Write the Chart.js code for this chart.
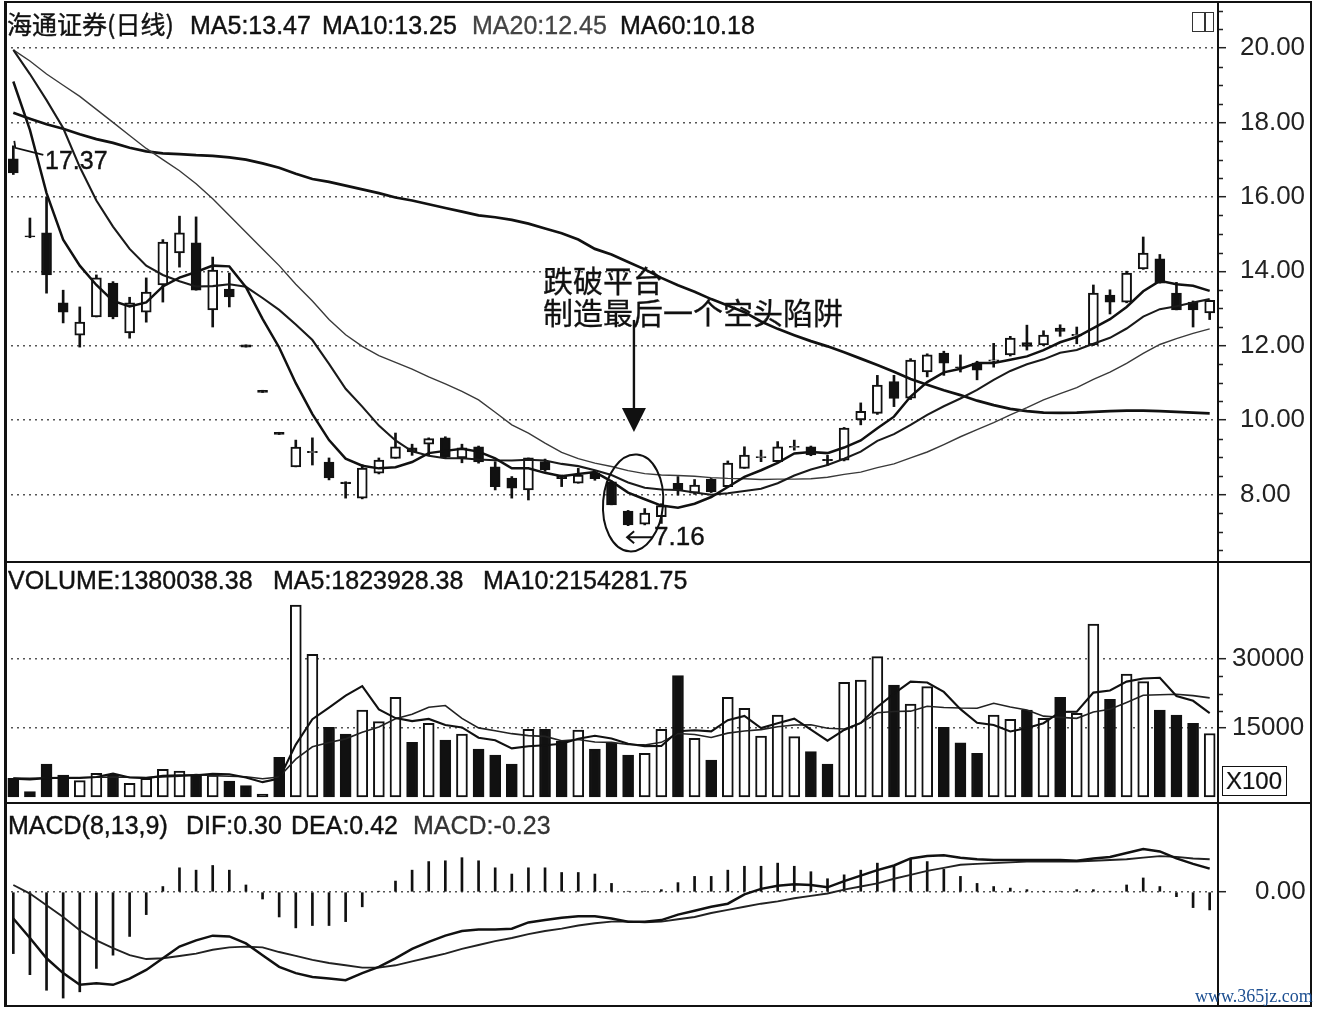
<!DOCTYPE html>
<html lang="zh-CN">
<head>
<meta charset="utf-8">
<title>海通证券(日线)</title>
<script src="https://cdn.jsdelivr.net/npm/chart.js@4.4.1/dist/chart.umd.min.js"></script>
<style>
html,body{margin:0;padding:0;background:#fff;}
#wrap{position:relative;width:1320px;height:1010px;overflow:hidden;background:#fff;}
canvas{position:absolute;left:5px;}
.t{position:absolute;white-space:nowrap;color:#111;font-family:"Liberation Sans",Arial,sans-serif;font-size:25px;line-height:29px;-webkit-text-stroke:0.4px #111;}
.cjk{font-family:"Noto Sans CJK SC",sans-serif;}
.ln{position:absolute;background:#111;}
</style>
</head>
<body>
<div id="wrap">
<canvas id="kline" width="1310" height="559" style="top:3px"></canvas>
<canvas id="vol" width="1310" height="241" style="top:562px"></canvas>
<canvas id="macd" width="1310" height="202" style="top:803px"></canvas>

<div class="ln" style="left:4px;top:1px;width:1308px;height:2px"></div>
<div class="ln" style="left:4px;top:1px;width:3px;height:1006px"></div>
<div class="ln" style="left:1310px;top:1px;width:2px;height:1006px"></div>
<div class="ln" style="left:1217px;top:1px;width:2px;height:1006px"></div>
<div class="ln" style="left:4px;top:561px;width:1308px;height:2px"></div>
<div class="ln" style="left:4px;top:802px;width:1308px;height:2px"></div>
<div class="ln" style="left:4px;top:1005px;width:1308px;height:2px"></div>

<div style="position:absolute;left:1192px;top:12px;width:20px;height:18px;border:1.5px solid #333;"><div style="position:absolute;left:11px;top:0;width:1.5px;height:18px;background:#333"></div></div>

<div class="t cjk" style="left:7px;top:9px">海通证券(日线)</div>
<div class="t" style="left:190px;top:11px">MA5:13.47</div>
<div class="t" style="left:322px;top:11px">MA10:13.25</div>
<div class="t" style="left:472px;top:11px;color:#444;-webkit-text-stroke:0.3px #444">MA20:12.45</div>
<div class="t" style="left:620px;top:11px">MA60:10.18</div>

<div class="t" style="left:8px;top:566px">VOLUME:1380038.38</div>
<div class="t" style="left:273px;top:566px">MA5:1823928.38</div>
<div class="t" style="left:483px;top:566px">MA10:2154281.75</div>

<div class="t" style="left:8px;top:811px">MACD(8,13,9)</div>
<div class="t" style="left:186px;top:811px">DIF:0.30</div>
<div class="t" style="left:291px;top:811px">DEA:0.42</div>
<div class="t" style="left:413px;top:811px;color:#333;-webkit-text-stroke:0.3px #333">MACD:-0.23</div>

<div class="t cjk" style="left:543px;top:262px;font-size:30px;line-height:34px;-webkit-text-stroke:0.3px #111">跌破平台</div>
<div class="t cjk" style="left:543px;top:294px;font-size:30px;line-height:34px;-webkit-text-stroke:0.3px #111">制造最后一个空头陷阱</div>
<div class="t" style="left:45px;top:146px">17.37</div>
<div class="t" style="left:654px;top:521px;font-size:26px;line-height:30px">7.16</div>

<div style="position:absolute;left:1222px;top:766px;width:63px;height:28px;border:1.5px solid #111;"><div class="t" style="left:3px;top:0;font-size:24px;line-height:28px;-webkit-text-stroke:0.2px #111">X100</div></div>
<div class="t" style="left:1195px;top:985px;font-family:'Liberation Serif',serif;font-size:18px;line-height:22px;color:#1d4f91;-webkit-text-stroke:0">www.365jz.com</div>
</div>

<script>
// ---------- data ----------
const opens = [
 17.02,14.95,15.03,13.15,12.28,12.77,13.68,12.34,12.90,13.63,
 14.49,14.76,12.96,13.52,12.02,10.80,9.67,8.74,9.12,8.87,
 8.33,7.90,8.57,8.97,9.25,9.35,9.52,8.98,9.28,8.74,
 8.44,8.12,8.88,8.52,8.30,8.57,8.34,7.55,7.20,7.40,
 8.30,8.03,8.41,8.21,8.70,8.99,8.88,9.26,9.28,8.94,
 8.92,10.00,10.18,11.03,10.59,11.29,11.80,11.43,11.53,11.58,
 11.75,12.08,12.02,12.47,12.26,12.02,13.36,13.17,14.06,14.33,
 13.41,13.17,12.88];
const highs = [
 17.37,15.43,16.00,13.49,13.04,13.90,13.72,13.30,13.82,14.85,
 15.48,15.46,14.38,13.95,12.02,10.80,9.67,9.46,9.52,8.98,
 8.34,8.80,8.98,9.65,9.35,9.52,9.55,9.35,9.30,8.88,
 8.48,8.98,8.95,8.52,8.70,8.60,8.36,7.57,7.62,7.75,
 8.48,8.40,8.43,8.90,9.28,9.19,9.42,9.46,9.30,9.05,
 9.80,10.46,11.20,11.20,11.65,11.78,11.85,11.75,11.58,12.06,
 12.25,12.55,12.40,12.56,12.50,13.63,13.50,14.00,14.92,14.45,
 13.70,13.20,13.22];
const lows = [
 16.60,14.90,13.41,12.61,11.96,12.77,12.72,12.20,12.63,13.17,
 14.11,13.49,12.50,13.04,11.96,10.74,9.61,8.74,8.79,8.39,
 7.90,7.88,8.55,8.97,9.05,9.06,8.98,8.85,8.84,8.12,
 7.90,7.85,8.62,8.21,8.30,8.38,7.72,7.16,7.18,7.22,
 7.98,8.00,8.05,8.20,8.70,8.88,8.88,9.19,9.04,8.78,
 8.90,9.87,10.15,10.36,10.55,11.16,11.20,11.29,11.08,11.42,
 11.72,11.88,12.00,12.25,12.05,12.00,12.85,13.15,14.05,13.68,
 12.96,12.50,12.70];
const closes = [
 16.64,14.92,13.90,12.90,12.63,13.82,12.77,13.15,13.44,14.78,
 15.03,13.49,14.03,13.31,11.96,10.74,9.61,9.27,9.16,8.44,
 8.29,8.71,8.92,9.28,9.14,9.50,9.00,9.25,8.87,8.21,
 8.17,8.98,8.66,8.42,8.52,8.42,7.72,7.18,7.50,7.70,
 8.12,8.25,8.07,8.84,9.06,9.02,9.28,9.29,9.06,8.91,
 9.78,10.23,10.94,10.58,11.61,11.75,11.53,11.41,11.34,11.62,
 12.20,11.98,12.28,12.38,12.30,13.41,13.17,13.95,14.49,13.68,
 12.96,12.96,13.22];
const ma5 = [
 19.10,17.80,16.10,14.85,14.15,13.63,13.20,13.05,13.16,13.59,
 13.83,13.98,14.15,14.13,13.57,12.72,11.95,10.99,10.16,9.46,
 8.96,8.77,8.70,8.73,8.87,9.11,9.17,9.23,9.15,8.97,
 8.70,8.70,8.58,8.49,8.55,8.60,8.35,8.05,7.87,7.70,
 7.64,7.75,7.93,8.20,8.47,8.65,8.85,9.10,9.14,9.11,
 9.26,9.45,9.78,10.09,10.63,11.02,11.28,11.38,11.53,11.53,
 11.62,11.71,11.88,12.09,12.23,12.47,12.71,13.04,13.46,13.74,
 13.65,13.61,13.47];
const ma10 = [
 19.95,19.30,18.60,17.85,16.80,15.90,15.20,14.60,14.15,13.90,
 13.73,13.59,13.60,13.65,13.58,13.28,12.96,12.57,12.15,11.51,
 10.84,10.36,9.85,9.45,9.16,9.04,8.97,8.97,8.94,8.92,
 8.91,8.93,8.91,8.82,8.76,8.65,8.52,8.32,8.18,8.13,
 8.12,8.05,7.99,8.03,8.09,8.15,8.30,8.51,8.67,8.79,
 8.96,9.15,9.44,9.62,9.87,10.14,10.37,10.58,10.81,11.08,
 11.32,11.50,11.63,11.81,11.88,12.05,12.21,12.46,12.78,12.98,
 13.06,13.16,13.25];
const ma20 = [
 19.95,19.65,19.30,19.00,18.70,18.35,18.00,17.65,17.30,17.00,
 16.70,16.35,15.95,15.50,15.05,14.60,14.15,13.65,13.20,12.70,
 12.29,11.98,11.73,11.55,11.37,11.16,10.97,10.77,10.54,10.21,
 9.87,9.65,9.38,9.13,8.96,8.84,8.75,8.64,8.56,8.52,
 8.51,8.49,8.45,8.43,8.42,8.40,8.41,8.41,8.42,8.46,
 8.54,8.60,8.72,8.82,8.98,9.14,9.34,9.55,9.74,9.93,
 10.14,10.33,10.54,10.71,10.87,11.09,11.29,11.52,11.79,12.03,
 12.19,12.33,12.45];
const ma60 = [
 18.26,18.10,17.95,17.83,17.68,17.55,17.45,17.32,17.22,17.17,
 17.15,17.12,17.10,17.06,17.00,16.90,16.78,16.62,16.48,16.40,
 16.30,16.20,16.10,15.98,15.90,15.80,15.70,15.60,15.50,15.45,
 15.38,15.28,15.15,15.02,14.85,14.60,14.45,14.25,14.05,13.82,
 13.62,13.45,13.25,13.08,12.90,12.65,12.45,12.28,12.12,11.98,
 11.82,11.65,11.48,11.30,11.10,10.95,10.80,10.67,10.52,10.40,
 10.30,10.24,10.20,10.19,10.20,10.22,10.24,10.25,10.25,10.24,
 10.22,10.20,10.18];
const volumes = [
 4060,1160,7170,4780,3550,5150,4780,2970,4060,6020,
 5650,4780,4780,3480,2460,650,8630,41740,31020,15150,
 13700,18910,16370,21670,11890,16020,12390,13700,10430,9130,
 7170,14720,14720,12170,14570,10430,11670,9130,9500,14720,
 26370,12760,8040,21670,19280,13260,17830,13110,9850,7170,
 24930,25430,30500,24350,20220,23980,15150,11800,9500,17830,
 16890,18910,17110,21670,18190,37600,21240,26740,25070,18910,
 17830,16020,13800];
const volMa5 = [
 4000,3800,4100,4200,4144,4362,5086,4246,4102,4596,
 4696,4696,5058,4942,4230,3230,4000,11392,16900,19438,
 22048,24104,19030,17160,16508,16972,15668,15134,12886,12334,
 10564,11030,11234,11582,12670,13322,12712,11594,11060,11090,
 14278,14496,14278,16712,17624,15002,16016,17030,14666,12244,
 14578,16098,19576,22476,25086,24896,22840,19100,16130,15652,
 14234,14986,16048,18482,18554,22696,23162,25088,25768,25912,
 21958,20914,18239];
const volMa10 = [
 4100,4050,4150,4200,4250,4300,4350,4300,4250,4370,
 4529,4891,4652,4522,4413,3963,4348,8225,10921,11834,
 12639,14052,15211,17030,17973,19510,19886,17082,15023,14421,
 13768,13349,13184,12234,12502,11943,11871,11414,11321,11880,
 13800,13604,12936,13886,14357,14640,15256,15654,15689,14934,
 14790,16057,18303,18571,18665,19737,19469,19338,19303,20369,
 19565,18913,17574,17306,17103,18465,19074,20568,22125,22233,
 22327,22038,21543];
const dif = [
 -0.34,-0.59,-0.85,-1.04,-1.19,-1.17,-1.19,-1.11,-1.00,-0.85,
 -0.70,-0.62,-0.56,-0.57,-0.66,-0.81,-0.96,-1.04,-1.09,-1.11,
 -1.13,-1.04,-0.96,-0.85,-0.73,-0.64,-0.56,-0.50,-0.48,-0.48,
 -0.47,-0.39,-0.36,-0.33,-0.31,-0.31,-0.34,-0.38,-0.38,-0.36,
 -0.29,-0.24,-0.19,-0.15,-0.03,0.04,0.08,0.10,0.09,0.06,
 0.14,0.21,0.28,0.34,0.43,0.46,0.47,0.44,0.42,0.41,
 0.41,0.41,0.41,0.41,0.40,0.43,0.45,0.50,0.55,0.52,
 0.43,0.36,0.30];
const dea = [
 0.09,-0.02,-0.17,-0.32,-0.49,-0.62,-0.72,-0.81,-0.86,-0.85,
 -0.82,-0.79,-0.74,-0.71,-0.70,-0.71,-0.77,-0.82,-0.87,-0.91,
 -0.94,-0.97,-0.97,-0.94,-0.89,-0.84,-0.79,-0.73,-0.68,-0.63,
 -0.59,-0.54,-0.50,-0.47,-0.43,-0.40,-0.38,-0.38,-0.39,-0.38,
 -0.35,-0.32,-0.27,-0.23,-0.19,-0.15,-0.12,-0.08,-0.05,-0.02,
 0.03,0.07,0.11,0.17,0.22,0.27,0.31,0.35,0.36,0.37,
 0.38,0.39,0.39,0.39,0.39,0.40,0.41,0.42,0.44,0.46,
 0.45,0.43,0.42];
const macdHist = [
 -0.79,-1.06,-1.26,-1.36,-1.28,-0.98,-0.81,-0.57,-0.29,0.07,
 0.31,0.28,0.34,0.28,0.09,-0.09,-0.32,-0.46,-0.43,-0.43,
 -0.38,-0.19,0.01,0.14,0.28,0.39,0.40,0.44,0.40,0.31,
 0.23,0.31,0.31,0.25,0.25,0.23,0.11,0.01,0.01,0.03,
 0.12,0.20,0.20,0.28,0.33,0.33,0.37,0.33,0.26,0.17,
 0.22,0.28,0.37,0.33,0.42,0.39,0.29,0.20,0.11,0.07,
 0.05,0.03,0.01,0.01,0.03,0.03,0.01,0.09,0.18,0.07,
 -0.06,-0.20,-0.23];
const days = closes.map((_, i) => 'D' + (i + 1));
const priceTicks = [8, 10, 12, 14, 16, 18, 20];
const priceMinorTicks = [6.5,7,7.5,8.5,9,9.5,10.5,11,11.5,12.5,13,13.5,14.5,15,15.5,16.5,17,17.5,18.5,19,19.5,20.5,21];
const volTicks = [15000, 30000];
const volMinorTicks = [18750, 22500, 26250];
const macdTicks = [0];
// annotation anchors (category index, price)
const arrowMark = {index: 37.35, from: 12.69, to: 9.68};
const ellipseMark = {index: 37.3, price: 7.77};
const lowMark = {index: 37, price: 6.85};
const highMark = {index: 0, price: 17.37};

// ---------- helpers ----------
Chart.defaults.font.family = "'Liberation Sans', Arial, sans-serif";
const up = closes.map((c, i) => c >= opens[i]);
const fillUpDown = up.map(u => u ? '#ffffff' : '#111111');

const minorTicks = {
  id: 'minorTicks',
  afterDraw(chart, args, opts) {
    const vals = opts.values || [];
    const y = chart.scales.y, ctx = chart.ctx;
    ctx.save();
    ctx.strokeStyle = '#222'; ctx.lineWidth = 1.5;
    ctx.beginPath();
    for (const v of vals) {
      if (v < y.min || v > y.max) continue;
      const p = Math.round(y.getPixelForValue(v)) + 0.5;
      ctx.moveTo(y.left, p); ctx.lineTo(y.left + 5, p);
    }
    ctx.stroke();
    ctx.restore();
  }
};

const annot = {
  id: 'annot',
  afterDatasetsDraw(chart) {
    const {ctx, scales: {x, y}} = chart;
    ctx.save();
    ctx.strokeStyle = '#111'; ctx.fillStyle = '#111';
    const ax = x.getPixelForValue(arrowMark.index);
    const y1 = y.getPixelForValue(arrowMark.from), y2 = y.getPixelForValue(arrowMark.to);
    ctx.lineWidth = 2.4;
    ctx.beginPath(); ctx.moveTo(ax, y1); ctx.lineTo(ax, y2 - 20); ctx.stroke();
    ctx.beginPath(); ctx.moveTo(ax - 12, y2 - 24); ctx.lineTo(ax + 12, y2 - 24); ctx.lineTo(ax, y2); ctx.closePath(); ctx.fill();
    const ex = x.getPixelForValue(ellipseMark.index), ey = y.getPixelForValue(ellipseMark.price);
    ctx.lineWidth = 2;
    ctx.beginPath(); ctx.ellipse(ex, ey, 30, 48.5, 0.08, 0, Math.PI * 2); ctx.stroke();
    const lx = x.getPixelForValue(lowMark.index) - 1, ly = y.getPixelForValue(lowMark.price);
    ctx.lineWidth = 2;
    ctx.beginPath(); ctx.moveTo(lx + 26, ly); ctx.lineTo(lx, ly);
    ctx.moveTo(lx + 7, ly - 6); ctx.lineTo(lx, ly); ctx.lineTo(lx + 7, ly + 6); ctx.stroke();
    const hx = x.getPixelForValue(highMark.index), hy = y.getPixelForValue(highMark.price);
    ctx.lineWidth = 1.8;
    ctx.beginPath(); ctx.moveTo(hx + 1, hy - 5); ctx.lineTo(hx + 2, hy + 2); ctx.lineTo(hx + 30, hy + 9); ctx.stroke();
    ctx.restore();
  }
};

function makeOptions(yOpts, minor) {
  return {
    responsive: false,
    animation: false,
    layout: {padding: 0},
    plugins: {legend: {display: false}, tooltip: {enabled: false}, minorTicks: {values: minor}},
    scales: {
      x: {type: 'category', display: false, offset: true},
      y: Object.assign({
        position: 'right',
        afterFit(s) { s.width = 97; s.paddingTop = 0; s.paddingBottom = 0; },
        grid: {color: '#555', lineWidth: 1.4, drawTicks: true, tickLength: 8, tickColor: '#222', tickWidth: 1.5},
        border: {display: false, dash: [2, 4]}
      }, yOpts)
    }
  };
}
const tickFont = {family: "'Liberation Sans', Arial, sans-serif", size: 26};

// ---------- K-line panel ----------
new Chart(document.getElementById('kline'), {
  type: 'bar',
  data: {
    labels: days,
    datasets: [
      {type: 'line', label: 'MA5', data: ma5, borderColor: '#111', borderWidth: 2.5, pointRadius: 0, order: 0},
      {type: 'line', label: 'MA10', data: ma10, borderColor: '#1a1a1a', borderWidth: 2.1, pointRadius: 0, order: 0},
      {type: 'line', label: 'MA20', data: ma20, borderColor: '#3a3a3a', borderWidth: 1.4, pointRadius: 0, order: 0},
      {type: 'line', label: 'MA60', data: ma60, borderColor: '#111', borderWidth: 2.7, pointRadius: 0, order: 0},
      {label: 'body', data: opens.map((o, i) => [o, closes[i]]), backgroundColor: fillUpDown, borderColor: '#111',
       borderWidth: 2, borderSkipped: false, barThickness: 10, grouped: false, order: 1},
      {label: 'wick', data: lows.map((l, i) => [l, highs[i]]), backgroundColor: '#111', borderWidth: 0,
       barThickness: 2, grouped: false, order: 2}
    ]
  },
  options: makeOptions({
    min: 6.183, max: 21.21,
    afterBuildTicks(s) { s.ticks = priceTicks.map(v => ({value: v})); },
    ticks: {font: tickFont, color: '#222', crossAlign: 'near', padding: 14, callback: v => Number(v).toFixed(2)}
  }, priceMinorTicks),
  plugins: [minorTicks, annot]
});

// ---------- volume panel ----------
new Chart(document.getElementById('vol'), {
  type: 'bar',
  data: {
    labels: days,
    datasets: [
      {type: 'line', label: 'MA5', data: volMa5, borderColor: '#111', borderWidth: 2.1, pointRadius: 0, order: 0},
      {type: 'line', label: 'MA10', data: volMa10, borderColor: '#222', borderWidth: 1.6, pointRadius: 0, order: 0},
      {label: 'VOLUME', data: volumes, backgroundColor: fillUpDown, borderColor: '#111', borderWidth: 2,
       borderSkipped: false, barThickness: 11, order: 1}
    ]
  },
  options: makeOptions({
    min: -1304, max: 51087,
    afterBuildTicks(s) { s.ticks = volTicks.map(v => ({value: v})); },
    ticks: {font: tickFont, color: '#222', crossAlign: 'near', padding: 6, callback: v => String(v)}
  }, volMinorTicks),
  plugins: [minorTicks]
});

// ---------- MACD panel ----------
new Chart(document.getElementById('macd'), {
  type: 'bar',
  data: {
    labels: days,
    datasets: [
      {type: 'line', label: 'DIF', data: dif, borderColor: '#111', borderWidth: 2.5, pointRadius: 0, order: 0},
      {type: 'line', label: 'DEA', data: dea, borderColor: '#222', borderWidth: 1.9, pointRadius: 0, order: 0},
      {label: 'MACD', data: macdHist, backgroundColor: '#111', borderWidth: 0, barThickness: 2, order: 1}
    ]
  },
  options: makeOptions({
    min: -1.449, max: 1.141,
    afterBuildTicks(s) { s.ticks = macdTicks.map(v => ({value: v})); },
    ticks: {font: tickFont, color: '#222', crossAlign: 'near', padding: 29, callback: v => Number(v).toFixed(2)}
  }, []),
  plugins: [minorTicks]
});
</script>
</body>
</html>
